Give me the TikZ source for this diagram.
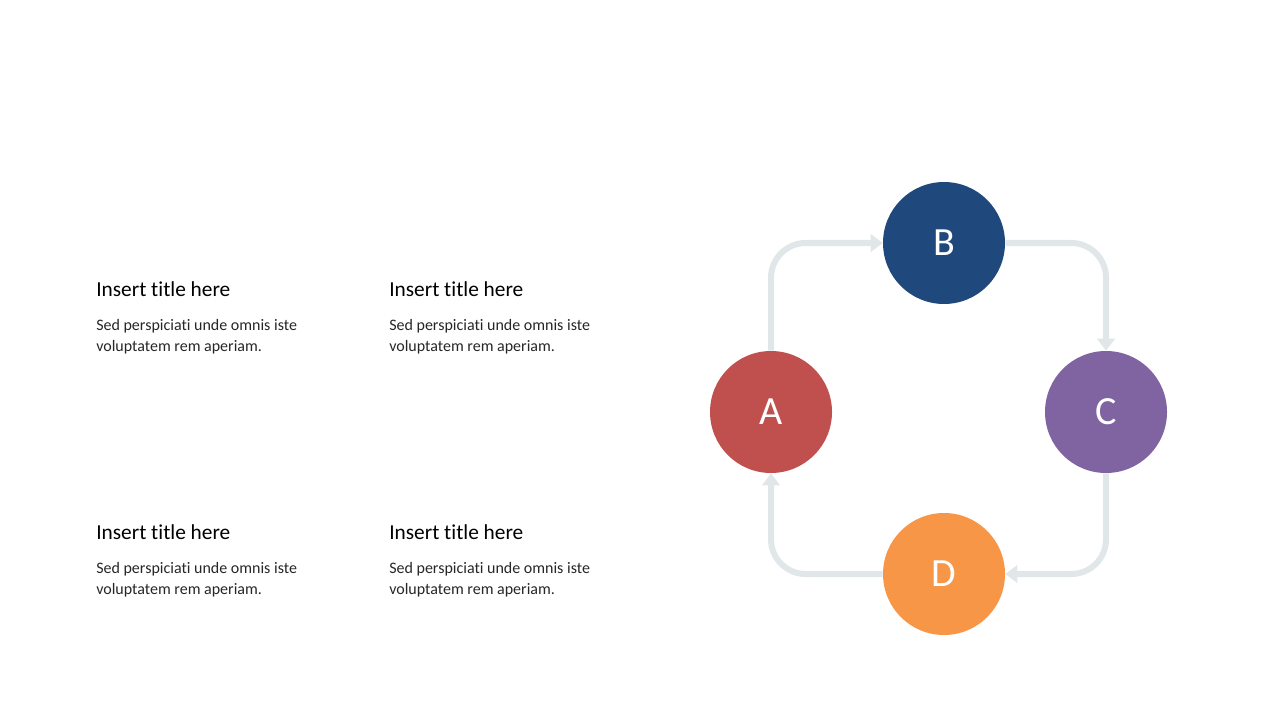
\documentclass[tikz,border=0pt]{standalone}
\usepackage{fontspec}
\setmainfont[Ligatures=NoCommon]{Carlito}
\usetikzlibrary{arrows.meta}
\definecolor{cred}{HTML}{C0504D}
\definecolor{cblue}{HTML}{1F497D}
\definecolor{cviolet}{HTML}{8064A2}
\definecolor{corange}{HTML}{F79646}
\definecolor{cline}{HTML}{E1E7E9}
\definecolor{ctext}{HTML}{262626}
\tikzset{
	circ/.style={circle,minimum size=91.5pt,inner sep=0pt,text=white,font=\fontsize{30}{36}\selectfont},
	flow/.style={draw=cline,line width=4.5pt,rounded corners=26pt,-{Triangle[width=13pt,length=9pt]}},
	ttl/.style={anchor=base west,inner sep=0pt,text=black,font=\fontsize{16}{19}\selectfont},
	body/.style={anchor=base west,inner sep=0pt,text=ctext,align=left,font=\fontsize{12}{15.75}\selectfont}
}
\begin{document}
\begin{tikzpicture}[x=0.75pt,y=-0.75pt]
		\useasboundingbox (0,0) rectangle (1280,720);
		% circles
		\node[circ,fill=cred] (A) at (771,412) {A};
		\node[circ,fill=cblue] (B) at (944,243) {B};
		\node[circ,fill=cviolet] (C) at (1106,412) {C};
		\node[circ,fill=corange] (D) at (944,574) {D};
		% cycle
		\draw[flow] (A.north) |- (B.west);
		\draw[flow] (B.east) -| (C.north);
		\draw[flow] (C.south) |- (D.east);
		\draw[flow] (D.west) -| (A.south);
		% texts
		\node[ttl] (t1) at (96,296) {Insert title here};
		\node[body] (b1) at (96,351) {Sed perspiciati unde omnis iste\\voluptatem rem aperiam.};
		\node[ttl] (t2) at (389,296) {Insert title here};
		\node[body] (b2) at (389,351) {Sed perspiciati unde omnis iste\\voluptatem rem aperiam.};
		\node[ttl] (t3) at (96,539) {Insert title here};
		\node[body] (b3) at (96,594) {Sed perspiciati unde omnis iste\\voluptatem rem aperiam.};
		\node[ttl] (t4) at (389,539) {Insert title here};
		\node[body] (b4) at (389,594) {Sed perspiciati unde omnis iste\\voluptatem rem aperiam.};
\end{tikzpicture}
\end{document}
